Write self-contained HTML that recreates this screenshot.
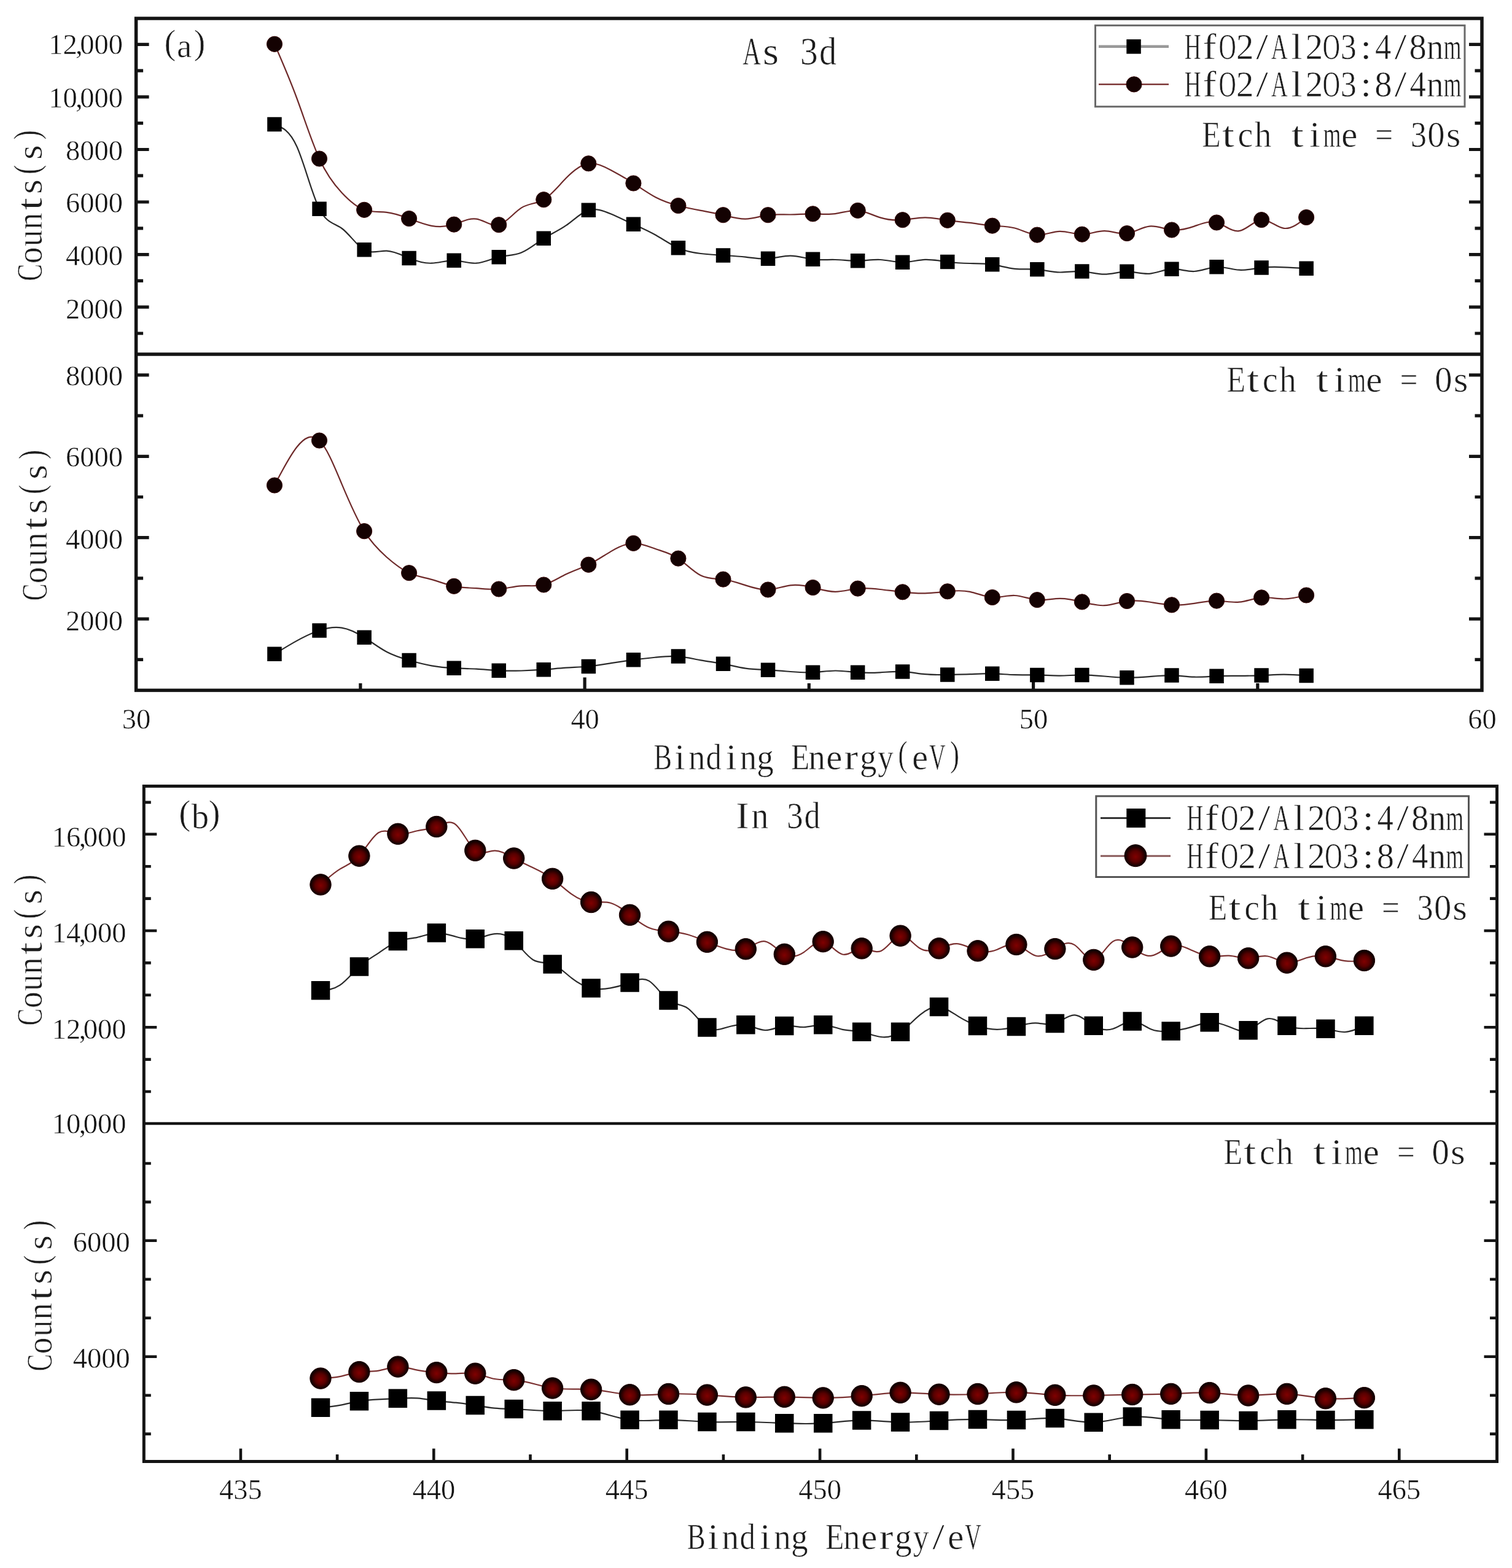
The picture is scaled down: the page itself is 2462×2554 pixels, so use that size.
<!DOCTYPE html><html><head><meta charset="utf-8"><title>XPS As 3d / In 3d</title>
<style>html,body{margin:0;padding:0;background:#fff;overflow:hidden;}svg{display:block;}svg{filter:blur(0.6px);}text{font-family:'Liberation Serif', 'Times New Roman', serif;}</style></head><body>
<svg width="2462" height="2554" viewBox="0 0 2462 2554">
<defs><radialGradient id="rg" cx="50%" cy="52%" r="50%" fx="50%" fy="55%"><stop offset="0" stop-color="#800000"/><stop offset="0.5" stop-color="#580000"/><stop offset="0.85" stop-color="#1c0000"/><stop offset="1" stop-color="#0a0000"/></radialGradient></defs>
<rect width="2462" height="2554" fill="#fff"/>
<rect x="221.6" y="30" width="2191.4" height="1094.4" fill="none" stroke="#141414" stroke-width="5.5"/>
<line x1="221.6" y1="577" x2="2413" y2="577" stroke="#141414" stroke-width="5.5"/>
<path d="M221.6 72.3H242.6M2413 72.3H2392" stroke="#141414" stroke-width="5.2"/>
<path d="M221.6 157.9H242.6M2413 157.9H2392" stroke="#141414" stroke-width="5.2"/>
<path d="M221.6 243.5H242.6M2413 243.5H2392" stroke="#141414" stroke-width="5.2"/>
<path d="M221.6 329H242.6M2413 329H2392" stroke="#141414" stroke-width="5.2"/>
<path d="M221.6 414.6H242.6M2413 414.6H2392" stroke="#141414" stroke-width="5.2"/>
<path d="M221.6 500.2H242.6M2413 500.2H2392" stroke="#141414" stroke-width="5.2"/>
<path d="M221.6 610.9H242.6M2413 610.9H2392" stroke="#141414" stroke-width="5.2"/>
<path d="M221.6 743.3H242.6M2413 743.3H2392" stroke="#141414" stroke-width="5.2"/>
<path d="M221.6 875.7H242.6M2413 875.7H2392" stroke="#141414" stroke-width="5.2"/>
<path d="M221.6 1008.1H242.6M2413 1008.1H2392" stroke="#141414" stroke-width="5.2"/>
<path d="M221.6 115.1H233.1M2413 115.1H2401.5" stroke="#141414" stroke-width="5.2"/>
<path d="M221.6 200.7H233.1M2413 200.7H2401.5" stroke="#141414" stroke-width="5.2"/>
<path d="M221.6 286.2H233.1M2413 286.2H2401.5" stroke="#141414" stroke-width="5.2"/>
<path d="M221.6 371.8H233.1M2413 371.8H2401.5" stroke="#141414" stroke-width="5.2"/>
<path d="M221.6 457.4H233.1M2413 457.4H2401.5" stroke="#141414" stroke-width="5.2"/>
<path d="M221.6 543H233.1M2413 543H2401.5" stroke="#141414" stroke-width="5.2"/>
<path d="M221.6 677.1H233.1M2413 677.1H2401.5" stroke="#141414" stroke-width="5.2"/>
<path d="M221.6 809.5H233.1M2413 809.5H2401.5" stroke="#141414" stroke-width="5.2"/>
<path d="M221.6 941.9H233.1M2413 941.9H2401.5" stroke="#141414" stroke-width="5.2"/>
<path d="M221.6 1074.3H233.1M2413 1074.3H2401.5" stroke="#141414" stroke-width="5.2"/>
<path d="M952.1 1124.4V1103.4" stroke="#141414" stroke-width="5.2"/>
<path d="M1682.6 1124.4V1103.4" stroke="#141414" stroke-width="5.2"/>
<path d="M586.9 1124.4V1112.9" stroke="#141414" stroke-width="5.2"/>
<path d="M1317.3 1124.4V1112.9" stroke="#141414" stroke-width="5.2"/>
<path d="M2047.8 1124.4V1112.9" stroke="#141414" stroke-width="5.2"/>
<rect x="234.3" y="1280.5" width="2203.2" height="1100" fill="none" stroke="#141414" stroke-width="5"/>
<line x1="234.3" y1="1830" x2="2437.5" y2="1830" stroke="#141414" stroke-width="4.6"/>
<path d="M234.3 1358.8H255.3M2437.5 1358.8H2416.5" stroke="#141414" stroke-width="4.6"/>
<path d="M234.3 1516H255.3M2437.5 1516H2416.5" stroke="#141414" stroke-width="4.6"/>
<path d="M234.3 1673.2H255.3M2437.5 1673.2H2416.5" stroke="#141414" stroke-width="4.6"/>
<path d="M234.3 2020.8H255.3M2437.5 2020.8H2416.5" stroke="#141414" stroke-width="4.6"/>
<path d="M234.3 2209.7H255.3M2437.5 2209.7H2416.5" stroke="#141414" stroke-width="4.6"/>
<path d="M234.3 1306.9H245.8M2437.5 1306.9H2426" stroke="#141414" stroke-width="4.6"/>
<path d="M234.3 1411.2H245.8M2437.5 1411.2H2426" stroke="#141414" stroke-width="4.6"/>
<path d="M234.3 1463.6H245.8M2437.5 1463.6H2426" stroke="#141414" stroke-width="4.6"/>
<path d="M234.3 1568.4H245.8M2437.5 1568.4H2426" stroke="#141414" stroke-width="4.6"/>
<path d="M234.3 1620.8H245.8M2437.5 1620.8H2426" stroke="#141414" stroke-width="4.6"/>
<path d="M234.3 1725.6H245.8M2437.5 1725.6H2426" stroke="#141414" stroke-width="4.6"/>
<path d="M234.3 1778H245.8M2437.5 1778H2426" stroke="#141414" stroke-width="4.6"/>
<path d="M234.3 1895H245.8M2437.5 1895H2426" stroke="#141414" stroke-width="4.6"/>
<path d="M234.3 1957.9H245.8M2437.5 1957.9H2426" stroke="#141414" stroke-width="4.6"/>
<path d="M234.3 2083.8H245.8M2437.5 2083.8H2426" stroke="#141414" stroke-width="4.6"/>
<path d="M234.3 2146.8H245.8M2437.5 2146.8H2426" stroke="#141414" stroke-width="4.6"/>
<path d="M234.3 2272.7H245.8M2437.5 2272.7H2426" stroke="#141414" stroke-width="4.6"/>
<path d="M234.3 2335.6H245.8M2437.5 2335.6H2426" stroke="#141414" stroke-width="4.6"/>
<path d="M391.9 2380.5V2359.5" stroke="#141414" stroke-width="4.6"/>
<path d="M706.3 2380.5V2359.5" stroke="#141414" stroke-width="4.6"/>
<path d="M1020.7 2380.5V2359.5" stroke="#141414" stroke-width="4.6"/>
<path d="M1335.1 2380.5V2359.5" stroke="#141414" stroke-width="4.6"/>
<path d="M1649.5 2380.5V2359.5" stroke="#141414" stroke-width="4.6"/>
<path d="M1963.9 2380.5V2359.5" stroke="#141414" stroke-width="4.6"/>
<path d="M2278.3 2380.5V2359.5" stroke="#141414" stroke-width="4.6"/>
<path d="M549.1 2380.5V2369" stroke="#141414" stroke-width="4.6"/>
<path d="M863.5 2380.5V2369" stroke="#141414" stroke-width="4.6"/>
<path d="M1177.9 2380.5V2369" stroke="#141414" stroke-width="4.6"/>
<path d="M1492.3 2380.5V2369" stroke="#141414" stroke-width="4.6"/>
<path d="M1806.7 2380.5V2369" stroke="#141414" stroke-width="4.6"/>
<path d="M2121.1 2380.5V2369" stroke="#141414" stroke-width="4.6"/>
<path d="M447 202.6C459.2 207.2 471.3 211.8 483.5 239C495.7 266.2 507.9 316 520 340.2C532.2 364.4 544.4 363.1 556.6 372C568.8 380.9 580.9 400.1 593.1 406.9C605.3 413.7 617.5 408.3 629.6 408.7C641.8 409.1 654 415.5 666.1 420.5C678.3 425.5 690.5 429.1 702.7 428.7C714.9 428.3 727 424 739.2 424.3C751.4 424.6 763.6 429.5 775.7 428.7C787.9 427.9 800.1 421.5 812.2 418.6C824.4 415.7 836.6 416.4 848.8 411.5C860.9 406.6 873.1 396.1 885.3 388.4C897.5 380.7 909.6 375.8 921.8 367.2C934 358.6 946.2 346.2 958.3 342.4C970.5 338.6 982.7 343.3 994.9 348.6C1007.1 353.9 1019.2 359.7 1031.4 365.2C1043.6 370.7 1055.8 376.1 1067.9 383C1080.1 389.9 1092.3 398.5 1104.4 403.9C1116.6 409.3 1128.8 411.5 1141 413C1153.1 414.5 1165.3 415.3 1177.5 416C1189.7 416.7 1201.9 417.3 1214 418.7C1226.2 420.1 1238.4 422.3 1250.5 421.4C1262.7 420.5 1274.9 416.6 1287.1 416.7C1299.2 416.8 1311.4 420.8 1323.6 422.3C1335.8 423.8 1348 422.7 1360.1 423C1372.3 423.3 1384.5 425.1 1396.7 424.9C1408.8 424.7 1421 422.4 1433.2 423C1445.3 423.6 1457.5 427.1 1469.7 427.1C1481.9 427.1 1494 423.4 1506.2 422.9C1518.4 422.4 1530.6 424.9 1542.8 426.5C1554.9 428.1 1567.1 428.8 1579.3 429C1591.5 429.2 1603.6 429.1 1615.8 430.9C1628 432.7 1640.1 436.5 1652.3 437.8C1664.5 439.1 1676.7 437.9 1688.8 438.9C1701 439.9 1713.2 443.2 1725.4 443.5C1737.5 443.8 1749.7 441.3 1761.9 442C1774.1 442.7 1786.2 446.8 1798.4 446.7C1810.6 446.6 1822.8 442.4 1835 442.4C1847.1 442.4 1859.3 446.7 1871.5 445.8C1883.6 444.9 1895.8 438.8 1908 438.2C1920.2 437.6 1932.4 442.5 1944.5 442C1956.7 441.5 1968.9 435.4 1981 434.8C1993.2 434.2 2005.4 438.9 2017.6 439.7C2029.7 440.5 2041.9 437.4 2054.1 436C2066.3 434.6 2078.4 434.8 2090.6 435.3C2102.8 435.8 2115 436.6 2127.1 437.4" fill="none" stroke="#2a2a2a" stroke-width="2.2" stroke-linejoin="round"/>
<path d="M447 71.8C459.2 99.7 471.3 127.5 483.5 160.5C495.7 193.5 507.9 231.6 520 258.5C532.2 285.4 544.4 301 556.6 314C568.8 327 580.9 337.4 593.1 341.8C605.3 346.2 617.5 344.5 629.6 345.8C641.8 347.1 654 351.4 666.1 356C678.3 360.6 690.5 365.6 702.7 367.8C714.9 370 727 369.4 739.2 365.6C751.4 361.8 763.6 354.7 775.7 356.6C787.9 358.5 800.1 369.2 812.2 366.2C824.4 363.2 836.6 346.3 848.8 338.6C860.9 330.9 873.1 332.3 885.3 325.2C897.5 318.1 909.6 302.5 921.8 290C934 277.5 946.2 268 958.3 266.3C970.5 264.6 982.7 270.7 994.9 277.2C1007.1 283.7 1019.2 290.6 1031.4 298.5C1043.6 306.4 1055.8 315.1 1067.9 321.5C1080.1 327.9 1092.3 331.8 1104.4 335C1116.6 338.2 1128.8 340.6 1141 342.9C1153.1 345.2 1165.3 347.3 1177.5 350.2C1189.7 353.1 1201.9 356.9 1214 356.6C1226.2 356.3 1238.4 351.9 1250.5 350.2C1262.7 348.5 1274.9 349.6 1287.1 349.5C1299.2 349.4 1311.4 348.2 1323.6 348.3C1335.8 348.4 1348 349.7 1360.1 348.1C1372.3 346.5 1384.5 341.9 1396.7 342.9C1408.8 343.9 1421 350.6 1433.2 354.4C1445.3 358.2 1457.5 359.2 1469.7 358.2C1481.9 357.2 1494 354.4 1506.2 354.3C1518.4 354.2 1530.6 357 1542.8 358.8C1554.9 360.6 1567.1 361.4 1579.3 362.9C1591.5 364.4 1603.6 366.8 1615.8 367.7C1628 368.6 1640.1 368.2 1652.3 371.5C1664.5 374.8 1676.7 382 1688.8 382.6C1701 383.2 1713.2 377.2 1725.4 376.8C1737.5 376.4 1749.7 381.8 1761.9 381.7C1774.1 381.6 1786.2 376.2 1798.4 376.2C1810.6 376.2 1822.8 381.7 1835 380.1C1847.1 378.5 1859.3 370 1871.5 368.6C1883.6 367.2 1895.8 373.1 1908 374.5C1920.2 375.9 1932.4 372.8 1944.5 368.6C1956.7 364.4 1968.9 359.1 1981 362.5C1993.2 365.9 2005.4 377.9 2017.6 376.2C2029.7 374.5 2041.9 359.2 2054.1 358.1C2066.3 357 2078.4 370.1 2090.6 371.8C2102.8 373.5 2115 363.7 2127.1 354" fill="none" stroke="#6e2a2a" stroke-width="2.2" stroke-linejoin="round"/>
<path d="M447 1065.3C459.2 1057.8 471.3 1050.3 483.5 1043.6C495.7 1036.9 507.9 1031 520 1026.9C532.2 1022.8 544.4 1020.7 556.6 1022.6C568.8 1024.5 580.9 1030.6 593.1 1038.3C605.3 1046 617.5 1055.3 629.6 1061.8C641.8 1068.3 654 1072 666.1 1075.5C678.3 1079 690.5 1082.1 702.7 1084.3C714.9 1086.5 727 1087.6 739.2 1088.2C751.4 1088.8 763.6 1089 775.7 1089.7C787.9 1090.4 800.1 1091.7 812.2 1092.3C824.4 1092.9 836.6 1092.8 848.8 1092.5C860.9 1092.2 873.1 1091.6 885.3 1090.7C897.5 1089.8 909.6 1088.5 921.8 1087.7C934 1086.9 946.2 1086.7 958.3 1085.5C970.5 1084.3 982.7 1082.1 994.9 1080.1C1007.1 1078.1 1019.2 1076.4 1031.4 1074.8C1043.6 1073.2 1055.8 1071.9 1067.9 1070.6C1080.1 1069.3 1092.3 1068.1 1104.4 1069.1C1116.6 1070.1 1128.8 1073.2 1141 1075.4C1153.1 1077.6 1165.3 1078.9 1177.5 1081.2C1189.7 1083.5 1201.9 1086.9 1214 1088.7C1226.2 1090.5 1238.4 1090.7 1250.5 1091.3C1262.7 1091.9 1274.9 1093 1287.1 1094C1299.2 1095 1311.4 1095.8 1323.6 1095.2C1335.8 1094.6 1348 1092.6 1360.1 1092.5C1372.3 1092.4 1384.5 1094.3 1396.7 1095.2C1408.8 1096.1 1421 1096 1433.2 1095.3C1445.3 1094.6 1457.5 1093.3 1469.7 1093.9C1481.9 1094.5 1494 1097 1506.2 1098.2C1518.4 1099.4 1530.6 1099.2 1542.8 1099C1554.9 1098.8 1567.1 1098.7 1579.3 1098.2C1591.5 1097.7 1603.6 1096.9 1615.8 1097.2C1628 1097.5 1640.1 1098.8 1652.3 1099.2C1664.5 1099.6 1676.7 1099.1 1688.8 1099.4C1701 1099.7 1713.2 1100.7 1725.4 1100.6C1737.5 1100.5 1749.7 1099.4 1761.9 1099.4C1774.1 1099.4 1786.2 1100.4 1798.4 1101.5C1810.6 1102.6 1822.8 1103.7 1835 1103.8C1847.1 1103.9 1859.3 1103.1 1871.5 1102.1C1883.6 1101.1 1895.8 1099.8 1908 1100.1C1920.2 1100.4 1932.4 1102.4 1944.5 1102.7C1956.7 1103 1968.9 1101.8 1981 1101.2C1993.2 1100.6 2005.4 1100.8 2017.6 1100.8C2029.7 1100.8 2041.9 1100.6 2054.1 1100.1C2066.3 1099.6 2078.4 1098.7 2090.6 1098.7C2102.8 1098.7 2115 1099.5 2127.1 1100.4" fill="none" stroke="#2a2a2a" stroke-width="2.2" stroke-linejoin="round"/>
<path d="M447 790.5C459.2 766.9 471.3 743.3 483.5 728C495.7 712.7 507.9 705.8 520 717.5C532.2 729.2 544.4 759.6 556.6 788.6C568.8 817.6 580.9 845.4 593.1 865.2C605.3 885 617.5 896.8 629.6 907.5C641.8 918.2 654 927.6 666.1 933.2C678.3 938.8 690.5 940.5 702.7 943.9C714.9 947.3 727 952.3 739.2 954.8C751.4 957.3 763.6 957.4 775.7 958.2C787.9 959 800.1 960.5 812.2 959.5C824.4 958.5 836.6 955 848.8 954.3C860.9 953.6 873.1 955.6 885.3 952.5C897.5 949.4 909.6 941.2 921.8 935.3C934 929.4 946.2 925.8 958.3 919.8C970.5 913.8 982.7 905.3 994.9 898.1C1007.1 890.9 1019.2 885.1 1031.4 884.9C1043.6 884.7 1055.8 890.1 1067.9 894.3C1080.1 898.5 1092.3 901.4 1104.4 909.6C1116.6 917.8 1128.8 931.1 1141 937.2C1153.1 943.3 1165.3 942.1 1177.5 943.6C1189.7 945.1 1201.9 949.4 1214 953.4C1226.2 957.4 1238.4 961.1 1250.5 960.5C1262.7 959.9 1274.9 954.9 1287.1 953.4C1299.2 951.9 1311.4 954 1323.6 957C1335.8 960 1348 963.8 1360.1 963.8C1372.3 963.8 1384.5 959.9 1396.7 958.6C1408.8 957.3 1421 958.6 1433.2 960C1445.3 961.4 1457.5 963 1469.7 964.3C1481.9 965.6 1494 966.6 1506.2 966.3C1518.4 966 1530.6 964.5 1542.8 963.3C1554.9 962.1 1567.1 961.3 1579.3 963.8C1591.5 966.3 1603.6 972.2 1615.8 973C1628 973.8 1640.1 969.4 1652.3 970C1664.5 970.6 1676.7 976 1688.8 977.1C1701 978.2 1713.2 975 1725.4 974.8C1737.5 974.6 1749.7 977.3 1761.9 980.4C1774.1 983.5 1786.2 986.9 1798.4 986.2C1810.6 985.5 1822.8 980.7 1835 979C1847.1 977.3 1859.3 978.6 1871.5 980.5C1883.6 982.4 1895.8 984.7 1908 985.3C1920.2 985.9 1932.4 984.8 1944.5 982.9C1956.7 981 1968.9 978.4 1981 978.6C1993.2 978.8 2005.4 981.8 2017.6 980.7C2029.7 979.6 2041.9 974.4 2054.1 973.4C2066.3 972.4 2078.4 975.5 2090.6 975.5C2102.8 975.5 2115 972.5 2127.1 969.5" fill="none" stroke="#6e2a2a" stroke-width="2.2" stroke-linejoin="round"/>
<path d="M522 1613.3C532.5 1612.5 543 1611.7 553.5 1604.6C564 1597.5 574.5 1584.2 584.9 1574.6C595.4 1565 605.9 1559.3 616.4 1552.3C626.9 1545.3 637.4 1537.1 647.9 1533C658.4 1528.9 668.9 1529 679.3 1526.8C689.8 1524.6 700.3 1520 710.8 1519.6C721.3 1519.2 731.8 1522.8 742.3 1525.7C752.8 1528.6 763.3 1530.8 773.8 1529.2C784.2 1527.6 794.7 1522.4 805.2 1521.2C815.7 1520 826.2 1523 836.7 1532.3C847.2 1541.6 857.7 1557.2 868.2 1563.5C878.7 1569.8 889.1 1566.6 899.6 1570.5C910.1 1574.4 920.6 1585.2 931.1 1593.4C941.6 1601.6 952.1 1607.1 962.6 1609.5C973.1 1611.9 983.6 1611.3 994 1609.4C1004.5 1607.5 1015 1604.5 1025.5 1600.5C1036 1596.5 1046.5 1591.5 1057 1597.9C1067.5 1604.3 1078 1621.9 1088.5 1629.6C1099 1637.3 1109.4 1635 1119.9 1642.4C1130.4 1649.8 1140.9 1666.8 1151.4 1673.5C1161.9 1680.2 1172.4 1676.7 1182.9 1673.5C1193.4 1670.3 1203.8 1667.4 1214.3 1669.3C1224.8 1671.2 1235.3 1677.7 1245.8 1678C1256.3 1678.3 1266.8 1672.2 1277.3 1670.9C1287.8 1669.6 1298.3 1673.2 1308.8 1673C1319.2 1672.8 1329.7 1668.9 1340.2 1669.3C1350.7 1669.7 1361.2 1674.6 1371.7 1676.8C1382.2 1679 1392.7 1678.6 1403.2 1680.8C1413.6 1683 1424.1 1687.8 1434.6 1689C1445.1 1690.2 1455.6 1687.8 1466.1 1680.8C1476.6 1673.8 1487.1 1662.1 1497.6 1653.4C1508.1 1644.7 1518.5 1639 1529 1640.1C1539.5 1641.2 1550 1649.1 1560.5 1655.6C1571 1662.1 1581.5 1667.2 1592 1670.9C1602.5 1674.6 1613 1676.8 1623.5 1676.8C1633.9 1676.8 1644.4 1674.7 1654.9 1672C1665.4 1669.3 1675.9 1666 1686.4 1666.3C1696.9 1666.6 1707.4 1670.4 1717.9 1667.1C1728.3 1663.8 1738.8 1653.2 1749.3 1653.4C1759.8 1653.6 1770.3 1664.4 1780.8 1670.8C1791.3 1677.2 1801.8 1679.2 1812.3 1675.7C1822.8 1672.2 1833.2 1663.3 1843.7 1663.4C1854.2 1663.5 1864.7 1672.5 1875.2 1676.8C1885.7 1681.1 1896.2 1680.5 1906.7 1679.4C1917.2 1678.3 1927.7 1676.5 1938.1 1673.4C1948.6 1670.3 1959.1 1665.9 1969.6 1665.3C1980.1 1664.7 1990.6 1667.9 2001.1 1672.3C2011.6 1676.7 2022.1 1682.1 2032.6 1678.3C2043 1674.5 2053.5 1661.4 2064 1659.3C2074.5 1657.2 2085 1666.2 2095.5 1670.8C2106 1675.4 2116.5 1675.5 2127 1675.2C2137.5 1674.9 2148 1674.1 2158.4 1675.7C2168.9 1677.3 2179.4 1681.4 2189.9 1681C2200.4 1680.6 2210.9 1675.7 2221.4 1670.8" fill="none" stroke="#2a2a2a" stroke-width="2.2" stroke-linejoin="round"/>
<path d="M522 1440.9C532.5 1431.5 543 1422 553.5 1415.6C564 1409.2 574.5 1405.8 584.9 1394.2C595.4 1382.6 605.9 1362.6 616.4 1356.2C626.9 1349.8 637.4 1356.8 647.9 1358.3C658.4 1359.8 668.9 1355.6 679.3 1353.3C689.8 1351 700.3 1350.6 710.8 1346.5C721.3 1342.4 731.8 1334.7 742.3 1343.3C752.8 1351.9 763.3 1376.8 773.8 1385.3C784.2 1393.8 794.7 1386 805.2 1385.6C815.7 1385.2 826.2 1392.2 836.7 1398C847.2 1403.8 857.7 1408.5 868.2 1413.4C878.7 1418.3 889.1 1423.6 899.6 1431.3C910.1 1439 920.6 1449.3 931.1 1456.7C941.6 1464.1 952.1 1468.6 962.6 1469.5C973.1 1470.4 983.6 1467.8 994 1470.7C1004.5 1473.6 1015 1482 1025.5 1490.3C1036 1498.6 1046.5 1506.8 1057 1511.2C1067.5 1515.6 1078 1516.3 1088.5 1517.2C1099 1518.1 1109.4 1519.4 1119.9 1522.3C1130.4 1525.2 1140.9 1529.9 1151.4 1534.3C1161.9 1538.7 1172.4 1542.8 1182.9 1545.6C1193.4 1548.4 1203.8 1550 1214.3 1545.8C1224.8 1541.6 1235.3 1531.7 1245.8 1533.4C1256.3 1535.1 1266.8 1548.5 1277.3 1554.3C1287.8 1560.1 1298.3 1558.2 1308.8 1551.1C1319.2 1544 1329.7 1531.7 1340.2 1533.7C1350.7 1535.7 1361.2 1552 1371.7 1554.5C1382.2 1557 1392.7 1545.7 1403.2 1544.8C1413.6 1543.9 1424.1 1553.4 1434.6 1548.9C1445.1 1544.4 1455.6 1525.8 1466.1 1524.2C1476.6 1522.6 1487.1 1538 1497.6 1544.5C1508.1 1551 1518.5 1548.5 1529 1544.8C1539.5 1541.1 1550 1536.2 1560.5 1537.4C1571 1538.6 1581.5 1545.8 1592 1548.8C1602.5 1551.8 1613 1550.7 1623.5 1546.7C1633.9 1542.7 1644.4 1535.7 1654.9 1538.5C1665.4 1541.3 1675.9 1553.9 1686.4 1556.7C1696.9 1559.5 1707.4 1552.4 1717.9 1545.6C1728.3 1538.8 1738.8 1532.4 1749.3 1538.9C1759.8 1545.4 1770.3 1564.7 1780.8 1563.4C1791.3 1562.1 1801.8 1540.2 1812.3 1533.4C1822.8 1526.6 1833.2 1535.1 1843.7 1543C1854.2 1550.9 1864.7 1558.3 1875.2 1556.7C1885.7 1555.1 1896.2 1544.4 1906.7 1541.1C1917.2 1537.8 1927.7 1542 1938.1 1546.7C1948.6 1551.4 1959.1 1556.6 1969.6 1557.8C1980.1 1559 1990.6 1556.2 2001.1 1556.7C2011.6 1557.2 2022.1 1561.2 2032.6 1560.8C2043 1560.4 2053.5 1555.8 2064 1557.5C2074.5 1559.2 2085 1567.1 2095.5 1568.2C2106 1569.3 2116.5 1563.5 2127 1560.2C2137.5 1556.9 2148 1556.1 2158.4 1557.8C2168.9 1559.5 2179.4 1563.6 2189.9 1565.1C2200.4 1566.6 2210.9 1565.6 2221.4 1564.5" fill="none" stroke="#7a3030" stroke-width="2.2" stroke-linejoin="round"/>
<path d="M522 2292.8C532.5 2291.8 543 2290.8 553.5 2288.9C564 2287 574.5 2284.1 584.9 2282.3C595.4 2280.5 605.9 2279.8 616.4 2279.3C626.9 2278.8 637.4 2278.3 647.9 2277.8C658.4 2277.3 668.9 2276.7 679.3 2277.4C689.8 2278.1 700.3 2280.2 710.8 2281.6C721.3 2283 731.8 2283.6 742.3 2284.7C752.8 2285.8 763.3 2287.3 773.8 2289C784.2 2290.7 794.7 2292.6 805.2 2293.6C815.7 2294.6 826.2 2294.6 836.7 2295C857.7 2295.8 878.7 2298.3 899.6 2298.2C920.6 2298.1 941.6 2295.2 962.6 2298.2C983.6 2301.2 1004.5 2309.9 1025.5 2312.8C1046.5 2315.7 1067.5 2312.9 1088.5 2312.8C1109.4 2312.7 1130.4 2315.2 1151.4 2316C1172.4 2316.8 1193.4 2315.9 1214.3 2316C1235.3 2316.1 1256.3 2317.3 1277.3 2318.2C1298.3 2319.1 1319.2 2319.6 1340.2 2318.2C1361.2 2316.8 1382.2 2313.6 1403.2 2313.4C1424.1 2313.2 1445.1 2316.1 1466.1 2316.6C1487.1 2317.1 1508.1 2315.4 1529 2314C1550 2312.6 1571 2311.6 1592 2311.9C1613 2312.2 1633.9 2313.9 1654.9 2313C1675.9 2312.1 1696.9 2308.8 1717.9 2310.1C1738.8 2311.4 1759.8 2317.3 1780.8 2316.7C1801.8 2316.1 1822.8 2308.9 1843.7 2307.5C1864.7 2306.1 1885.7 2310.6 1906.7 2312.3C1927.7 2314 1948.6 2312.9 1969.6 2313C1990.6 2313.1 2011.6 2314.2 2032.6 2314.1C2053.5 2314 2074.5 2312.6 2095.5 2312.3C2116.5 2312 2137.5 2312.8 2158.4 2313C2179.4 2313.2 2200.4 2312.7 2221.4 2312.3" fill="none" stroke="#2a2a2a" stroke-width="2.2" stroke-linejoin="round"/>
<path d="M522 2245.1C532.5 2244.7 543 2244.4 553.5 2242.2C564 2240 574.5 2236 584.9 2234.6C595.4 2233.2 605.9 2234.3 616.4 2232.6C626.9 2230.9 637.4 2226.5 647.9 2226.1C658.4 2225.7 668.9 2229.5 679.3 2231.7C689.8 2233.9 700.3 2234.7 710.8 2235.6C721.3 2236.5 731.8 2237.7 742.3 2237.4C752.8 2237.1 763.3 2235.5 773.8 2237.2C784.2 2238.9 794.7 2244 805.2 2246C815.7 2248 826.2 2247 836.7 2247.7C857.7 2249.2 878.7 2257.9 899.6 2261C920.6 2264.1 941.6 2261.7 962.6 2263.2C983.6 2264.7 1004.5 2270.2 1025.5 2271.8C1046.5 2273.4 1067.5 2271.2 1088.5 2270.5C1109.4 2269.8 1130.4 2270.7 1151.4 2272.1C1172.4 2273.5 1193.4 2275.5 1214.3 2275.9C1235.3 2276.3 1256.3 2275.2 1277.3 2275.3C1298.3 2275.4 1319.2 2276.8 1340.2 2276.9C1361.2 2277 1382.2 2275.8 1403.2 2273.7C1424.1 2271.6 1445.1 2268.6 1466.1 2268.3C1487.1 2268 1508.1 2270.3 1529 2271.2C1550 2272.1 1571 2271.7 1592 2270.5C1613 2269.3 1633.9 2267.4 1654.9 2267.8C1675.9 2268.2 1696.9 2271 1717.9 2272.3C1738.8 2273.6 1759.8 2273.4 1780.8 2273C1801.8 2272.6 1822.8 2271.8 1843.7 2271.5C1864.7 2271.2 1885.7 2271.3 1906.7 2270.4C1927.7 2269.5 1948.6 2267.7 1969.6 2268.6C1990.6 2269.5 2011.6 2273 2032.6 2273C2053.5 2273 2074.5 2269.6 2095.5 2270.4C2116.5 2271.2 2137.5 2276.1 2158.4 2277.8C2179.4 2279.5 2200.4 2278.1 2221.4 2276.7" fill="none" stroke="#7a3030" stroke-width="2.2" stroke-linejoin="round"/>
<path d="M435.2 190.8h23.5v23.5h-23.5zM508.3 328.4h23.5v23.5h-23.5zM581.4 395.1h23.5v23.5h-23.5zM654.4 408.8h23.5v23.5h-23.5zM727.5 412.6h23.5v23.5h-23.5zM800.5 406.9h23.5v23.5h-23.5zM873.5 376.6h23.5v23.5h-23.5zM946.6 330.6h23.5v23.5h-23.5zM1019.7 353.4h23.5v23.5h-23.5zM1092.7 392.1h23.5v23.5h-23.5zM1165.8 404.2h23.5v23.5h-23.5zM1238.8 409.6h23.5v23.5h-23.5zM1311.8 410.6h23.5v23.5h-23.5zM1384.9 413.1h23.5v23.5h-23.5zM1457.9 415.4h23.5v23.5h-23.5zM1531 414.8h23.5v23.5h-23.5zM1604 419.1h23.5v23.5h-23.5zM1677.1 427.1h23.5v23.5h-23.5zM1750.1 430.2h23.5v23.5h-23.5zM1823.2 430.6h23.5v23.5h-23.5zM1896.2 426.4h23.5v23.5h-23.5zM1969.3 423.1h23.5v23.5h-23.5zM2042.3 424.2h23.5v23.5h-23.5zM2115.4 425.6h23.5v23.5h-23.5z" fill="#000"/>
<path d="M435.2 1053.5h23.5v23.5h-23.5zM508.3 1015.2h23.5v23.5h-23.5zM581.4 1026.5h23.5v23.5h-23.5zM654.4 1063.8h23.5v23.5h-23.5zM727.5 1076.5h23.5v23.5h-23.5zM800.5 1080.5h23.5v23.5h-23.5zM873.5 1079h23.5v23.5h-23.5zM946.6 1073.8h23.5v23.5h-23.5zM1019.7 1063h23.5v23.5h-23.5zM1092.7 1057.3h23.5v23.5h-23.5zM1165.8 1069.5h23.5v23.5h-23.5zM1238.8 1079.5h23.5v23.5h-23.5zM1311.8 1083.5h23.5v23.5h-23.5zM1384.9 1083.5h23.5v23.5h-23.5zM1457.9 1082.2h23.5v23.5h-23.5zM1531 1087.2h23.5v23.5h-23.5zM1604 1085.5h23.5v23.5h-23.5zM1677.1 1087.7h23.5v23.5h-23.5zM1750.1 1087.7h23.5v23.5h-23.5zM1823.2 1092h23.5v23.5h-23.5zM1896.2 1088.3h23.5v23.5h-23.5zM1969.3 1089.5h23.5v23.5h-23.5zM2042.3 1088.3h23.5v23.5h-23.5zM2115.4 1088.7h23.5v23.5h-23.5z" fill="#000"/>
<circle cx="447" cy="71.8" r="12.6" fill="#140202" stroke="#3a0a0a" stroke-width="1"/>
<circle cx="520" cy="258.5" r="12.6" fill="#140202" stroke="#3a0a0a" stroke-width="1"/>
<circle cx="593.1" cy="341.8" r="12.6" fill="#140202" stroke="#3a0a0a" stroke-width="1"/>
<circle cx="666.1" cy="356" r="12.6" fill="#140202" stroke="#3a0a0a" stroke-width="1"/>
<circle cx="739.2" cy="365.6" r="12.6" fill="#140202" stroke="#3a0a0a" stroke-width="1"/>
<circle cx="812.2" cy="366.2" r="12.6" fill="#140202" stroke="#3a0a0a" stroke-width="1"/>
<circle cx="885.3" cy="325.2" r="12.6" fill="#140202" stroke="#3a0a0a" stroke-width="1"/>
<circle cx="958.3" cy="266.3" r="12.6" fill="#140202" stroke="#3a0a0a" stroke-width="1"/>
<circle cx="1031.4" cy="298.5" r="12.6" fill="#140202" stroke="#3a0a0a" stroke-width="1"/>
<circle cx="1104.4" cy="335" r="12.6" fill="#140202" stroke="#3a0a0a" stroke-width="1"/>
<circle cx="1177.5" cy="350.2" r="12.6" fill="#140202" stroke="#3a0a0a" stroke-width="1"/>
<circle cx="1250.5" cy="350.2" r="12.6" fill="#140202" stroke="#3a0a0a" stroke-width="1"/>
<circle cx="1323.6" cy="348.3" r="12.6" fill="#140202" stroke="#3a0a0a" stroke-width="1"/>
<circle cx="1396.7" cy="342.9" r="12.6" fill="#140202" stroke="#3a0a0a" stroke-width="1"/>
<circle cx="1469.7" cy="358.2" r="12.6" fill="#140202" stroke="#3a0a0a" stroke-width="1"/>
<circle cx="1542.8" cy="358.8" r="12.6" fill="#140202" stroke="#3a0a0a" stroke-width="1"/>
<circle cx="1615.8" cy="367.7" r="12.6" fill="#140202" stroke="#3a0a0a" stroke-width="1"/>
<circle cx="1688.8" cy="382.6" r="12.6" fill="#140202" stroke="#3a0a0a" stroke-width="1"/>
<circle cx="1761.9" cy="381.7" r="12.6" fill="#140202" stroke="#3a0a0a" stroke-width="1"/>
<circle cx="1835" cy="380.1" r="12.6" fill="#140202" stroke="#3a0a0a" stroke-width="1"/>
<circle cx="1908" cy="374.5" r="12.6" fill="#140202" stroke="#3a0a0a" stroke-width="1"/>
<circle cx="1981" cy="362.5" r="12.6" fill="#140202" stroke="#3a0a0a" stroke-width="1"/>
<circle cx="2054.1" cy="358.1" r="12.6" fill="#140202" stroke="#3a0a0a" stroke-width="1"/>
<circle cx="2127.1" cy="354" r="12.6" fill="#140202" stroke="#3a0a0a" stroke-width="1"/>
<circle cx="447" cy="790.5" r="12.6" fill="#140202" stroke="#3a0a0a" stroke-width="1"/>
<circle cx="520" cy="717.5" r="12.6" fill="#140202" stroke="#3a0a0a" stroke-width="1"/>
<circle cx="593.1" cy="865.2" r="12.6" fill="#140202" stroke="#3a0a0a" stroke-width="1"/>
<circle cx="666.1" cy="933.2" r="12.6" fill="#140202" stroke="#3a0a0a" stroke-width="1"/>
<circle cx="739.2" cy="954.8" r="12.6" fill="#140202" stroke="#3a0a0a" stroke-width="1"/>
<circle cx="812.2" cy="959.5" r="12.6" fill="#140202" stroke="#3a0a0a" stroke-width="1"/>
<circle cx="885.3" cy="952.5" r="12.6" fill="#140202" stroke="#3a0a0a" stroke-width="1"/>
<circle cx="958.3" cy="919.8" r="12.6" fill="#140202" stroke="#3a0a0a" stroke-width="1"/>
<circle cx="1031.4" cy="884.9" r="12.6" fill="#140202" stroke="#3a0a0a" stroke-width="1"/>
<circle cx="1104.4" cy="909.6" r="12.6" fill="#140202" stroke="#3a0a0a" stroke-width="1"/>
<circle cx="1177.5" cy="943.6" r="12.6" fill="#140202" stroke="#3a0a0a" stroke-width="1"/>
<circle cx="1250.5" cy="960.5" r="12.6" fill="#140202" stroke="#3a0a0a" stroke-width="1"/>
<circle cx="1323.6" cy="957" r="12.6" fill="#140202" stroke="#3a0a0a" stroke-width="1"/>
<circle cx="1396.7" cy="958.6" r="12.6" fill="#140202" stroke="#3a0a0a" stroke-width="1"/>
<circle cx="1469.7" cy="964.3" r="12.6" fill="#140202" stroke="#3a0a0a" stroke-width="1"/>
<circle cx="1542.8" cy="963.3" r="12.6" fill="#140202" stroke="#3a0a0a" stroke-width="1"/>
<circle cx="1615.8" cy="973" r="12.6" fill="#140202" stroke="#3a0a0a" stroke-width="1"/>
<circle cx="1688.8" cy="977.1" r="12.6" fill="#140202" stroke="#3a0a0a" stroke-width="1"/>
<circle cx="1761.9" cy="980.4" r="12.6" fill="#140202" stroke="#3a0a0a" stroke-width="1"/>
<circle cx="1835" cy="979" r="12.6" fill="#140202" stroke="#3a0a0a" stroke-width="1"/>
<circle cx="1908" cy="985.3" r="12.6" fill="#140202" stroke="#3a0a0a" stroke-width="1"/>
<circle cx="1981" cy="978.6" r="12.6" fill="#140202" stroke="#3a0a0a" stroke-width="1"/>
<circle cx="2054.1" cy="973.4" r="12.6" fill="#140202" stroke="#3a0a0a" stroke-width="1"/>
<circle cx="2127.1" cy="969.5" r="12.6" fill="#140202" stroke="#3a0a0a" stroke-width="1"/>
<path d="M506.8 1598h30.5v30.5h-30.5zM569.7 1559.3h30.5v30.5h-30.5zM632.6 1517.8h30.5v30.5h-30.5zM695.6 1504.3h30.5v30.5h-30.5zM758.5 1514h30.5v30.5h-30.5zM821.5 1517h30.5v30.5h-30.5zM884.4 1555.2h30.5v30.5h-30.5zM947.3 1594.2h30.5v30.5h-30.5zM1010.3 1585.2h30.5v30.5h-30.5zM1073.2 1614.3h30.5v30.5h-30.5zM1136.2 1658.2h30.5v30.5h-30.5zM1199.1 1654h30.5v30.5h-30.5zM1262 1655.7h30.5v30.5h-30.5zM1325 1654h30.5v30.5h-30.5zM1387.9 1665.5h30.5v30.5h-30.5zM1450.8 1665.5h30.5v30.5h-30.5zM1513.8 1624.8h30.5v30.5h-30.5zM1576.7 1655.7h30.5v30.5h-30.5zM1639.7 1656.8h30.5v30.5h-30.5zM1702.6 1651.8h30.5v30.5h-30.5zM1765.5 1655.5h30.5v30.5h-30.5zM1828.5 1648.2h30.5v30.5h-30.5zM1891.4 1664.2h30.5v30.5h-30.5zM1954.4 1650h30.5v30.5h-30.5zM2017.3 1663h30.5v30.5h-30.5zM2080.2 1655.5h30.5v30.5h-30.5zM2143.2 1660.5h30.5v30.5h-30.5zM2206.1 1655.5h30.5v30.5h-30.5z" fill="#000"/>
<path d="M506.8 2277.6h30.5v30.5h-30.5zM569.7 2267.1h30.5v30.5h-30.5zM632.6 2262.6h30.5v30.5h-30.5zM695.6 2266.3h30.5v30.5h-30.5zM758.5 2273.8h30.5v30.5h-30.5zM821.5 2279.8h30.5v30.5h-30.5zM884.4 2282.9h30.5v30.5h-30.5zM947.3 2282.9h30.5v30.5h-30.5zM1010.3 2297.6h30.5v30.5h-30.5zM1073.2 2297.6h30.5v30.5h-30.5zM1136.2 2300.8h30.5v30.5h-30.5zM1199.1 2300.8h30.5v30.5h-30.5zM1262 2302.9h30.5v30.5h-30.5zM1325 2302.9h30.5v30.5h-30.5zM1387.9 2298.2h30.5v30.5h-30.5zM1450.8 2301.3h30.5v30.5h-30.5zM1513.8 2298.8h30.5v30.5h-30.5zM1576.7 2296.7h30.5v30.5h-30.5zM1639.7 2297.8h30.5v30.5h-30.5zM1702.6 2294.8h30.5v30.5h-30.5zM1765.5 2301.4h30.5v30.5h-30.5zM1828.5 2292.2h30.5v30.5h-30.5zM1891.4 2297.1h30.5v30.5h-30.5zM1954.4 2297.8h30.5v30.5h-30.5zM2017.3 2298.8h30.5v30.5h-30.5zM2080.2 2297.1h30.5v30.5h-30.5zM2143.2 2297.8h30.5v30.5h-30.5zM2206.1 2297.1h30.5v30.5h-30.5z" fill="#000"/>
<circle cx="522" cy="1440.9" r="17.2" fill="url(#rg)" stroke="#200000" stroke-width="1"/>
<circle cx="584.9" cy="1394.2" r="17.2" fill="url(#rg)" stroke="#200000" stroke-width="1"/>
<circle cx="647.9" cy="1358.3" r="17.2" fill="url(#rg)" stroke="#200000" stroke-width="1"/>
<circle cx="710.8" cy="1346.5" r="17.2" fill="url(#rg)" stroke="#200000" stroke-width="1"/>
<circle cx="773.8" cy="1385.3" r="17.2" fill="url(#rg)" stroke="#200000" stroke-width="1"/>
<circle cx="836.7" cy="1398" r="17.2" fill="url(#rg)" stroke="#200000" stroke-width="1"/>
<circle cx="899.6" cy="1431.3" r="17.2" fill="url(#rg)" stroke="#200000" stroke-width="1"/>
<circle cx="962.6" cy="1469.5" r="17.2" fill="url(#rg)" stroke="#200000" stroke-width="1"/>
<circle cx="1025.5" cy="1490.3" r="17.2" fill="url(#rg)" stroke="#200000" stroke-width="1"/>
<circle cx="1088.5" cy="1517.2" r="17.2" fill="url(#rg)" stroke="#200000" stroke-width="1"/>
<circle cx="1151.4" cy="1534.3" r="17.2" fill="url(#rg)" stroke="#200000" stroke-width="1"/>
<circle cx="1214.3" cy="1545.8" r="17.2" fill="url(#rg)" stroke="#200000" stroke-width="1"/>
<circle cx="1277.3" cy="1554.3" r="17.2" fill="url(#rg)" stroke="#200000" stroke-width="1"/>
<circle cx="1340.2" cy="1533.7" r="17.2" fill="url(#rg)" stroke="#200000" stroke-width="1"/>
<circle cx="1403.2" cy="1544.8" r="17.2" fill="url(#rg)" stroke="#200000" stroke-width="1"/>
<circle cx="1466.1" cy="1524.2" r="17.2" fill="url(#rg)" stroke="#200000" stroke-width="1"/>
<circle cx="1529" cy="1544.8" r="17.2" fill="url(#rg)" stroke="#200000" stroke-width="1"/>
<circle cx="1592" cy="1548.8" r="17.2" fill="url(#rg)" stroke="#200000" stroke-width="1"/>
<circle cx="1654.9" cy="1538.5" r="17.2" fill="url(#rg)" stroke="#200000" stroke-width="1"/>
<circle cx="1717.9" cy="1545.6" r="17.2" fill="url(#rg)" stroke="#200000" stroke-width="1"/>
<circle cx="1780.8" cy="1563.4" r="17.2" fill="url(#rg)" stroke="#200000" stroke-width="1"/>
<circle cx="1843.7" cy="1543" r="17.2" fill="url(#rg)" stroke="#200000" stroke-width="1"/>
<circle cx="1906.7" cy="1541.1" r="17.2" fill="url(#rg)" stroke="#200000" stroke-width="1"/>
<circle cx="1969.6" cy="1557.8" r="17.2" fill="url(#rg)" stroke="#200000" stroke-width="1"/>
<circle cx="2032.6" cy="1560.8" r="17.2" fill="url(#rg)" stroke="#200000" stroke-width="1"/>
<circle cx="2095.5" cy="1568.2" r="17.2" fill="url(#rg)" stroke="#200000" stroke-width="1"/>
<circle cx="2158.4" cy="1557.8" r="17.2" fill="url(#rg)" stroke="#200000" stroke-width="1"/>
<circle cx="2221.4" cy="1564.5" r="17.2" fill="url(#rg)" stroke="#200000" stroke-width="1"/>
<circle cx="522" cy="2245.1" r="17.2" fill="url(#rg)" stroke="#200000" stroke-width="1"/>
<circle cx="584.9" cy="2234.6" r="17.2" fill="url(#rg)" stroke="#200000" stroke-width="1"/>
<circle cx="647.9" cy="2226.1" r="17.2" fill="url(#rg)" stroke="#200000" stroke-width="1"/>
<circle cx="710.8" cy="2235.6" r="17.2" fill="url(#rg)" stroke="#200000" stroke-width="1"/>
<circle cx="773.8" cy="2237.2" r="17.2" fill="url(#rg)" stroke="#200000" stroke-width="1"/>
<circle cx="836.7" cy="2247.7" r="17.2" fill="url(#rg)" stroke="#200000" stroke-width="1"/>
<circle cx="899.6" cy="2261" r="17.2" fill="url(#rg)" stroke="#200000" stroke-width="1"/>
<circle cx="962.6" cy="2263.2" r="17.2" fill="url(#rg)" stroke="#200000" stroke-width="1"/>
<circle cx="1025.5" cy="2271.8" r="17.2" fill="url(#rg)" stroke="#200000" stroke-width="1"/>
<circle cx="1088.5" cy="2270.5" r="17.2" fill="url(#rg)" stroke="#200000" stroke-width="1"/>
<circle cx="1151.4" cy="2272.1" r="17.2" fill="url(#rg)" stroke="#200000" stroke-width="1"/>
<circle cx="1214.3" cy="2275.9" r="17.2" fill="url(#rg)" stroke="#200000" stroke-width="1"/>
<circle cx="1277.3" cy="2275.3" r="17.2" fill="url(#rg)" stroke="#200000" stroke-width="1"/>
<circle cx="1340.2" cy="2276.9" r="17.2" fill="url(#rg)" stroke="#200000" stroke-width="1"/>
<circle cx="1403.2" cy="2273.7" r="17.2" fill="url(#rg)" stroke="#200000" stroke-width="1"/>
<circle cx="1466.1" cy="2268.3" r="17.2" fill="url(#rg)" stroke="#200000" stroke-width="1"/>
<circle cx="1529" cy="2271.2" r="17.2" fill="url(#rg)" stroke="#200000" stroke-width="1"/>
<circle cx="1592" cy="2270.5" r="17.2" fill="url(#rg)" stroke="#200000" stroke-width="1"/>
<circle cx="1654.9" cy="2267.8" r="17.2" fill="url(#rg)" stroke="#200000" stroke-width="1"/>
<circle cx="1717.9" cy="2272.3" r="17.2" fill="url(#rg)" stroke="#200000" stroke-width="1"/>
<circle cx="1780.8" cy="2273" r="17.2" fill="url(#rg)" stroke="#200000" stroke-width="1"/>
<circle cx="1843.7" cy="2271.5" r="17.2" fill="url(#rg)" stroke="#200000" stroke-width="1"/>
<circle cx="1906.7" cy="2270.4" r="17.2" fill="url(#rg)" stroke="#200000" stroke-width="1"/>
<circle cx="1969.6" cy="2268.6" r="17.2" fill="url(#rg)" stroke="#200000" stroke-width="1"/>
<circle cx="2032.6" cy="2273" r="17.2" fill="url(#rg)" stroke="#200000" stroke-width="1"/>
<circle cx="2095.5" cy="2270.4" r="17.2" fill="url(#rg)" stroke="#200000" stroke-width="1"/>
<circle cx="2158.4" cy="2277.8" r="17.2" fill="url(#rg)" stroke="#200000" stroke-width="1"/>
<circle cx="2221.4" cy="2276.7" r="17.2" fill="url(#rg)" stroke="#200000" stroke-width="1"/>
<rect x="1783.5" y="41.4" width="601.5" height="132.3" fill="#fff" stroke="#6a6a6a" stroke-width="3"/>
<line x1="1789" y1="75.8" x2="1903" y2="75.8" stroke="#999" stroke-width="4.5"/>
<rect x="1834.3" y="64.1" width="23.5" height="23.5" fill="#000"/>
<line x1="1789" y1="137.4" x2="1903" y2="137.4" stroke="#6e2020" stroke-width="2.2"/>
<circle cx="1846.5" cy="137.4" r="12.6" fill="#140202" stroke="#3a0a0a" stroke-width="1"/>
<rect x="1784.8" y="1296.8" width="606.7" height="131.7" fill="#fff" stroke="#555" stroke-width="3"/>
<line x1="1792" y1="1332.5" x2="1906" y2="1332.5" stroke="#333" stroke-width="3"/>
<rect x="1834.3" y="1317" width="31" height="31" fill="#000"/>
<line x1="1792" y1="1394.2" x2="1906" y2="1394.2" stroke="#8a5a5a" stroke-width="3"/>
<circle cx="1849" cy="1393.7" r="18" fill="url(#rg)" stroke="#200000" stroke-width="1"/>
<text font-size="59" fill="#1c1c1c" stroke="#fff" stroke-width="0.7"><tspan x="1928.7" y="96.4" textLength="26.97" lengthAdjust="spacingAndGlyphs">H</tspan><tspan x="1958.4" y="96.4" textLength="22.04" lengthAdjust="spacingAndGlyphs">f</tspan><tspan x="1984.5" y="96.4" textLength="28.20" lengthAdjust="spacingAndGlyphs">O</tspan><tspan x="2012.8" y="96.4" textLength="28.69" lengthAdjust="spacingAndGlyphs">2</tspan><tspan x="2045.2" y="96.4" textLength="19.67" lengthAdjust="spacingAndGlyphs">/</tspan><tspan x="2069.7" y="96.4" textLength="26.84" lengthAdjust="spacingAndGlyphs">A</tspan><tspan x="2102.4" y="96.4" textLength="18.03" lengthAdjust="spacingAndGlyphs">l</tspan><tspan x="2125.6" y="96.4" textLength="28.69" lengthAdjust="spacingAndGlyphs">2</tspan><tspan x="2153.7" y="96.4" textLength="28.20" lengthAdjust="spacingAndGlyphs">O</tspan><tspan x="2182.8" y="96.4" textLength="26.02" lengthAdjust="spacingAndGlyphs">3</tspan><tspan x="2214.8" y="96.4" textLength="18.89" lengthAdjust="spacingAndGlyphs">:</tspan><tspan x="2239.1" y="96.4" textLength="26.35" lengthAdjust="spacingAndGlyphs">4</tspan><tspan x="2270.8" y="96.4" textLength="19.67" lengthAdjust="spacingAndGlyphs">/</tspan><tspan x="2294.6" y="96.4" textLength="28.31" lengthAdjust="spacingAndGlyphs">8</tspan><tspan x="2323" y="96.4" textLength="27.60" lengthAdjust="spacingAndGlyphs">n</tspan><tspan x="2350.7" y="96.4" textLength="28.86" lengthAdjust="spacingAndGlyphs">m</tspan></text>
<text font-size="59" fill="#1c1c1c" stroke="#fff" stroke-width="0.7"><tspan x="1928.7" y="156.7" textLength="26.97" lengthAdjust="spacingAndGlyphs">H</tspan><tspan x="1958.4" y="156.7" textLength="22.04" lengthAdjust="spacingAndGlyphs">f</tspan><tspan x="1984.5" y="156.7" textLength="28.20" lengthAdjust="spacingAndGlyphs">O</tspan><tspan x="2012.8" y="156.7" textLength="28.69" lengthAdjust="spacingAndGlyphs">2</tspan><tspan x="2045.2" y="156.7" textLength="19.67" lengthAdjust="spacingAndGlyphs">/</tspan><tspan x="2069.7" y="156.7" textLength="26.84" lengthAdjust="spacingAndGlyphs">A</tspan><tspan x="2102.4" y="156.7" textLength="18.03" lengthAdjust="spacingAndGlyphs">l</tspan><tspan x="2125.6" y="156.7" textLength="28.69" lengthAdjust="spacingAndGlyphs">2</tspan><tspan x="2153.7" y="156.7" textLength="28.20" lengthAdjust="spacingAndGlyphs">O</tspan><tspan x="2182.8" y="156.7" textLength="26.02" lengthAdjust="spacingAndGlyphs">3</tspan><tspan x="2214.8" y="156.7" textLength="18.89" lengthAdjust="spacingAndGlyphs">:</tspan><tspan x="2238.2" y="156.7" textLength="28.31" lengthAdjust="spacingAndGlyphs">8</tspan><tspan x="2270.8" y="156.7" textLength="19.67" lengthAdjust="spacingAndGlyphs">/</tspan><tspan x="2295.5" y="156.7" textLength="26.35" lengthAdjust="spacingAndGlyphs">4</tspan><tspan x="2323" y="156.7" textLength="27.60" lengthAdjust="spacingAndGlyphs">n</tspan><tspan x="2350.7" y="156.7" textLength="28.86" lengthAdjust="spacingAndGlyphs">m</tspan></text>
<text font-size="59" fill="#1c1c1c" stroke="#fff" stroke-width="0.7"><tspan x="1932.2" y="1352.3" textLength="26.97" lengthAdjust="spacingAndGlyphs">H</tspan><tspan x="1961.9" y="1352.3" textLength="22.04" lengthAdjust="spacingAndGlyphs">f</tspan><tspan x="1988" y="1352.3" textLength="28.20" lengthAdjust="spacingAndGlyphs">O</tspan><tspan x="2016.3" y="1352.3" textLength="28.69" lengthAdjust="spacingAndGlyphs">2</tspan><tspan x="2048.7" y="1352.3" textLength="19.67" lengthAdjust="spacingAndGlyphs">/</tspan><tspan x="2073.2" y="1352.3" textLength="26.84" lengthAdjust="spacingAndGlyphs">A</tspan><tspan x="2105.9" y="1352.3" textLength="18.03" lengthAdjust="spacingAndGlyphs">l</tspan><tspan x="2129.1" y="1352.3" textLength="28.69" lengthAdjust="spacingAndGlyphs">2</tspan><tspan x="2157.2" y="1352.3" textLength="28.20" lengthAdjust="spacingAndGlyphs">O</tspan><tspan x="2186.3" y="1352.3" textLength="26.02" lengthAdjust="spacingAndGlyphs">3</tspan><tspan x="2218.3" y="1352.3" textLength="18.89" lengthAdjust="spacingAndGlyphs">:</tspan><tspan x="2242.6" y="1352.3" textLength="26.35" lengthAdjust="spacingAndGlyphs">4</tspan><tspan x="2274.3" y="1352.3" textLength="19.67" lengthAdjust="spacingAndGlyphs">/</tspan><tspan x="2298.1" y="1352.3" textLength="28.31" lengthAdjust="spacingAndGlyphs">8</tspan><tspan x="2326.5" y="1352.3" textLength="27.60" lengthAdjust="spacingAndGlyphs">n</tspan><tspan x="2354.2" y="1352.3" textLength="28.86" lengthAdjust="spacingAndGlyphs">m</tspan></text>
<text font-size="59" fill="#1c1c1c" stroke="#fff" stroke-width="0.7"><tspan x="1932.2" y="1414.3" textLength="26.97" lengthAdjust="spacingAndGlyphs">H</tspan><tspan x="1961.9" y="1414.3" textLength="22.04" lengthAdjust="spacingAndGlyphs">f</tspan><tspan x="1988" y="1414.3" textLength="28.20" lengthAdjust="spacingAndGlyphs">O</tspan><tspan x="2016.3" y="1414.3" textLength="28.69" lengthAdjust="spacingAndGlyphs">2</tspan><tspan x="2048.7" y="1414.3" textLength="19.67" lengthAdjust="spacingAndGlyphs">/</tspan><tspan x="2073.2" y="1414.3" textLength="26.84" lengthAdjust="spacingAndGlyphs">A</tspan><tspan x="2105.9" y="1414.3" textLength="18.03" lengthAdjust="spacingAndGlyphs">l</tspan><tspan x="2129.1" y="1414.3" textLength="28.69" lengthAdjust="spacingAndGlyphs">2</tspan><tspan x="2157.2" y="1414.3" textLength="28.20" lengthAdjust="spacingAndGlyphs">O</tspan><tspan x="2186.3" y="1414.3" textLength="26.02" lengthAdjust="spacingAndGlyphs">3</tspan><tspan x="2218.3" y="1414.3" textLength="18.89" lengthAdjust="spacingAndGlyphs">:</tspan><tspan x="2241.7" y="1414.3" textLength="28.31" lengthAdjust="spacingAndGlyphs">8</tspan><tspan x="2274.3" y="1414.3" textLength="19.67" lengthAdjust="spacingAndGlyphs">/</tspan><tspan x="2299" y="1414.3" textLength="26.35" lengthAdjust="spacingAndGlyphs">4</tspan><tspan x="2326.5" y="1414.3" textLength="27.60" lengthAdjust="spacingAndGlyphs">n</tspan><tspan x="2354.2" y="1414.3" textLength="28.86" lengthAdjust="spacingAndGlyphs">m</tspan></text>
<text font-size="59" fill="#1c1c1c" stroke="#fff" stroke-width="0.7"><tspan x="1957.2" y="238.6" textLength="30.41" lengthAdjust="spacingAndGlyphs">E</tspan><tspan x="1989.7" y="238.6" textLength="20.49" lengthAdjust="spacingAndGlyphs">t</tspan><tspan x="2015.6" y="238.6" textLength="24.86" lengthAdjust="spacingAndGlyphs">c</tspan><tspan x="2042.7" y="238.6" textLength="27.77" lengthAdjust="spacingAndGlyphs">h</tspan><tspan x="2084.7" y="238.6"> </tspan><tspan x="2102.5" y="238.6" textLength="20.49" lengthAdjust="spacingAndGlyphs">t</tspan><tspan x="2132" y="238.6" textLength="18.03" lengthAdjust="spacingAndGlyphs">i</tspan><tspan x="2154.7" y="238.6" textLength="28.86" lengthAdjust="spacingAndGlyphs">m</tspan><tspan x="2184.1" y="238.6" textLength="26.38" lengthAdjust="spacingAndGlyphs">e</tspan><tspan x="2225.7" y="238.6"> </tspan><tspan x="2239.3" y="238.6" textLength="29.09" lengthAdjust="spacingAndGlyphs">=</tspan><tspan x="2282.1" y="238.6"> </tspan><tspan x="2297" y="238.6" textLength="26.02" lengthAdjust="spacingAndGlyphs">3</tspan><tspan x="2324.3" y="238.6" textLength="28.31" lengthAdjust="spacingAndGlyphs">0</tspan><tspan x="2354.7" y="238.6" textLength="23.70" lengthAdjust="spacingAndGlyphs">s</tspan></text>
<text font-size="59" fill="#1c1c1c" stroke="#fff" stroke-width="0.7"><tspan x="1997.4" y="637.5" textLength="30.41" lengthAdjust="spacingAndGlyphs">E</tspan><tspan x="2029.9" y="637.5" textLength="20.49" lengthAdjust="spacingAndGlyphs">t</tspan><tspan x="2055.8" y="637.5" textLength="24.86" lengthAdjust="spacingAndGlyphs">c</tspan><tspan x="2082.9" y="637.5" textLength="27.77" lengthAdjust="spacingAndGlyphs">h</tspan><tspan x="2124.8" y="637.5"> </tspan><tspan x="2142.7" y="637.5" textLength="20.49" lengthAdjust="spacingAndGlyphs">t</tspan><tspan x="2172.2" y="637.5" textLength="18.03" lengthAdjust="spacingAndGlyphs">i</tspan><tspan x="2194.9" y="637.5" textLength="28.86" lengthAdjust="spacingAndGlyphs">m</tspan><tspan x="2224.3" y="637.5" textLength="26.38" lengthAdjust="spacingAndGlyphs">e</tspan><tspan x="2265.8" y="637.5"> </tspan><tspan x="2279.5" y="637.5" textLength="29.09" lengthAdjust="spacingAndGlyphs">=</tspan><tspan x="2322.2" y="637.5"> </tspan><tspan x="2336.3" y="637.5" textLength="28.31" lengthAdjust="spacingAndGlyphs">0</tspan><tspan x="2366.7" y="637.5" textLength="23.70" lengthAdjust="spacingAndGlyphs">s</tspan></text>
<text font-size="59" fill="#1c1c1c" stroke="#fff" stroke-width="0.7"><tspan x="1967.8" y="1497.5" textLength="30.41" lengthAdjust="spacingAndGlyphs">E</tspan><tspan x="2000.3" y="1497.5" textLength="20.49" lengthAdjust="spacingAndGlyphs">t</tspan><tspan x="2026.2" y="1497.5" textLength="24.86" lengthAdjust="spacingAndGlyphs">c</tspan><tspan x="2053.3" y="1497.5" textLength="27.77" lengthAdjust="spacingAndGlyphs">h</tspan><tspan x="2095.2" y="1497.5"> </tspan><tspan x="2113.1" y="1497.5" textLength="20.49" lengthAdjust="spacingAndGlyphs">t</tspan><tspan x="2142.6" y="1497.5" textLength="18.03" lengthAdjust="spacingAndGlyphs">i</tspan><tspan x="2165.3" y="1497.5" textLength="28.86" lengthAdjust="spacingAndGlyphs">m</tspan><tspan x="2194.7" y="1497.5" textLength="26.38" lengthAdjust="spacingAndGlyphs">e</tspan><tspan x="2236.2" y="1497.5"> </tspan><tspan x="2249.9" y="1497.5" textLength="29.09" lengthAdjust="spacingAndGlyphs">=</tspan><tspan x="2292.7" y="1497.5"> </tspan><tspan x="2307.6" y="1497.5" textLength="26.02" lengthAdjust="spacingAndGlyphs">3</tspan><tspan x="2334.9" y="1497.5" textLength="28.31" lengthAdjust="spacingAndGlyphs">0</tspan><tspan x="2365.3" y="1497.5" textLength="23.70" lengthAdjust="spacingAndGlyphs">s</tspan></text>
<text font-size="59" fill="#1c1c1c" stroke="#fff" stroke-width="0.7"><tspan x="1992.6" y="1895.9" textLength="30.41" lengthAdjust="spacingAndGlyphs">E</tspan><tspan x="2025.1" y="1895.9" textLength="20.49" lengthAdjust="spacingAndGlyphs">t</tspan><tspan x="2051" y="1895.9" textLength="24.86" lengthAdjust="spacingAndGlyphs">c</tspan><tspan x="2078.1" y="1895.9" textLength="27.77" lengthAdjust="spacingAndGlyphs">h</tspan><tspan x="2120.1" y="1895.9"> </tspan><tspan x="2137.9" y="1895.9" textLength="20.49" lengthAdjust="spacingAndGlyphs">t</tspan><tspan x="2167.4" y="1895.9" textLength="18.03" lengthAdjust="spacingAndGlyphs">i</tspan><tspan x="2190.1" y="1895.9" textLength="28.86" lengthAdjust="spacingAndGlyphs">m</tspan><tspan x="2219.5" y="1895.9" textLength="26.38" lengthAdjust="spacingAndGlyphs">e</tspan><tspan x="2261.1" y="1895.9"> </tspan><tspan x="2274.7" y="1895.9" textLength="29.09" lengthAdjust="spacingAndGlyphs">=</tspan><tspan x="2317.5" y="1895.9"> </tspan><tspan x="2331.5" y="1895.9" textLength="28.31" lengthAdjust="spacingAndGlyphs">0</tspan><tspan x="2361.9" y="1895.9" textLength="23.70" lengthAdjust="spacingAndGlyphs">s</tspan></text>
<text font-size="64" fill="#1c1c1c" stroke="#fff" stroke-width="0.7"><tspan x="1209.2" y="105.1" textLength="29.64" lengthAdjust="spacingAndGlyphs">A</tspan><tspan x="1242" y="105.1" textLength="26.18" lengthAdjust="spacingAndGlyphs">s</tspan><tspan x="1286.4" y="105.1"> </tspan><tspan x="1302.9" y="105.1" textLength="28.75" lengthAdjust="spacingAndGlyphs">3</tspan><tspan x="1333.9" y="105.1" textLength="28.13" lengthAdjust="spacingAndGlyphs">d</tspan></text>
<text font-size="62" fill="#1c1c1c" stroke="#fff" stroke-width="0.7"><tspan x="1198.1" y="1349.1" textLength="21.90" lengthAdjust="spacingAndGlyphs">I</tspan><tspan x="1223.4" y="1349.1" textLength="27.95" lengthAdjust="spacingAndGlyphs">n</tspan><tspan x="1266.2" y="1349.1"> </tspan><tspan x="1281.3" y="1349.1" textLength="26.35" lengthAdjust="spacingAndGlyphs">3</tspan><tspan x="1309.8" y="1349.1" textLength="25.78" lengthAdjust="spacingAndGlyphs">d</tspan></text>
<text font-size="59" fill="#1c1c1c" stroke="#fff" stroke-width="0.7"><tspan x="1064.6" y="1253.4" textLength="29.61" lengthAdjust="spacingAndGlyphs">B</tspan><tspan x="1097.9" y="1253.4" textLength="17.87" lengthAdjust="spacingAndGlyphs">i</tspan><tspan x="1121" y="1253.4" textLength="27.36" lengthAdjust="spacingAndGlyphs">n</tspan><tspan x="1149.6" y="1253.4" textLength="25.24" lengthAdjust="spacingAndGlyphs">d</tspan><tspan x="1181.8" y="1253.4" textLength="17.87" lengthAdjust="spacingAndGlyphs">i</tspan><tspan x="1204.8" y="1253.4" textLength="27.36" lengthAdjust="spacingAndGlyphs">n</tspan><tspan x="1232.3" y="1253.4" textLength="27.49" lengthAdjust="spacingAndGlyphs">g</tspan><tspan x="1274.6" y="1253.4"> </tspan><tspan x="1288" y="1253.4" textLength="30.14" lengthAdjust="spacingAndGlyphs">E</tspan><tspan x="1316.6" y="1253.4" textLength="27.36" lengthAdjust="spacingAndGlyphs">n</tspan><tspan x="1345.3" y="1253.4" textLength="26.15" lengthAdjust="spacingAndGlyphs">e</tspan><tspan x="1374.6" y="1253.4" textLength="22.78" lengthAdjust="spacingAndGlyphs">r</tspan><tspan x="1400" y="1253.4" textLength="27.49" lengthAdjust="spacingAndGlyphs">g</tspan><tspan x="1429.3" y="1253.4" textLength="25.60" lengthAdjust="spacingAndGlyphs">y</tspan><tspan x="1462.3" y="1248.4" textLength="15.42" lengthAdjust="spacingAndGlyphs">(</tspan><tspan x="1485" y="1253.4" textLength="26.15" lengthAdjust="spacingAndGlyphs">e</tspan><tspan x="1512.9" y="1253.4" textLength="26.60" lengthAdjust="spacingAndGlyphs">V</tspan><tspan x="1546.7" y="1248.4" textLength="15.42" lengthAdjust="spacingAndGlyphs">)</tspan></text>
<text font-size="59" fill="#1c1c1c" stroke="#fff" stroke-width="0.7"><tspan x="1118.7" y="2523.4" textLength="29.88" lengthAdjust="spacingAndGlyphs">B</tspan><tspan x="1152.3" y="2523.4" textLength="18.03" lengthAdjust="spacingAndGlyphs">i</tspan><tspan x="1175.6" y="2523.4" textLength="27.60" lengthAdjust="spacingAndGlyphs">n</tspan><tspan x="1204.5" y="2523.4" textLength="25.46" lengthAdjust="spacingAndGlyphs">d</tspan><tspan x="1236.9" y="2523.4" textLength="18.03" lengthAdjust="spacingAndGlyphs">i</tspan><tspan x="1260.2" y="2523.4" textLength="27.60" lengthAdjust="spacingAndGlyphs">n</tspan><tspan x="1287.9" y="2523.4" textLength="27.74" lengthAdjust="spacingAndGlyphs">g</tspan><tspan x="1330.6" y="2523.4"> </tspan><tspan x="1344.1" y="2523.4" textLength="30.41" lengthAdjust="spacingAndGlyphs">E</tspan><tspan x="1373" y="2523.4" textLength="27.60" lengthAdjust="spacingAndGlyphs">n</tspan><tspan x="1401.9" y="2523.4" textLength="26.38" lengthAdjust="spacingAndGlyphs">e</tspan><tspan x="1431.5" y="2523.4" textLength="22.99" lengthAdjust="spacingAndGlyphs">r</tspan><tspan x="1457.1" y="2523.4" textLength="27.74" lengthAdjust="spacingAndGlyphs">g</tspan><tspan x="1486.7" y="2523.4" textLength="25.83" lengthAdjust="spacingAndGlyphs">y</tspan><tspan x="1518.2" y="2523.4" textLength="19.67" lengthAdjust="spacingAndGlyphs">/</tspan><tspan x="1542.9" y="2523.4" textLength="26.38" lengthAdjust="spacingAndGlyphs">e</tspan><tspan x="1571" y="2523.4" textLength="26.83" lengthAdjust="spacingAndGlyphs">V</tspan></text>
<g transform="translate(68 458) rotate(-90)"><text font-size="59" fill="#1c1c1c" stroke="#fff" stroke-width="0.7"><tspan x="0.3" y="0" textLength="28.04" lengthAdjust="spacingAndGlyphs">C</tspan><tspan x="28.4" y="0" textLength="27.13" lengthAdjust="spacingAndGlyphs">o</tspan><tspan x="56.8" y="0" textLength="26.61" lengthAdjust="spacingAndGlyphs">u</tspan><tspan x="84" y="0" textLength="27.60" lengthAdjust="spacingAndGlyphs">n</tspan><tspan x="115.6" y="0" textLength="20.49" lengthAdjust="spacingAndGlyphs">t</tspan><tspan x="142" y="0" textLength="23.70" lengthAdjust="spacingAndGlyphs">s</tspan><tspan x="173.9" y="-5" textLength="15.56" lengthAdjust="spacingAndGlyphs">(</tspan><tspan x="198" y="0" textLength="23.70" lengthAdjust="spacingAndGlyphs">s</tspan><tspan x="230.5" y="-5" textLength="15.56" lengthAdjust="spacingAndGlyphs">)</tspan></text></g>
<g transform="translate(75.8 978.8) rotate(-90)"><text font-size="59" fill="#1c1c1c" stroke="#fff" stroke-width="0.7"><tspan x="0.3" y="0" textLength="28.04" lengthAdjust="spacingAndGlyphs">C</tspan><tspan x="28.4" y="0" textLength="27.13" lengthAdjust="spacingAndGlyphs">o</tspan><tspan x="56.8" y="0" textLength="26.61" lengthAdjust="spacingAndGlyphs">u</tspan><tspan x="84" y="0" textLength="27.60" lengthAdjust="spacingAndGlyphs">n</tspan><tspan x="115.6" y="0" textLength="20.49" lengthAdjust="spacingAndGlyphs">t</tspan><tspan x="142" y="0" textLength="23.70" lengthAdjust="spacingAndGlyphs">s</tspan><tspan x="173.9" y="-5" textLength="15.56" lengthAdjust="spacingAndGlyphs">(</tspan><tspan x="198" y="0" textLength="23.70" lengthAdjust="spacingAndGlyphs">s</tspan><tspan x="230.5" y="-5" textLength="15.56" lengthAdjust="spacingAndGlyphs">)</tspan></text></g>
<g transform="translate(67.5 1670.7) rotate(-90)"><text font-size="59" fill="#1c1c1c" stroke="#fff" stroke-width="0.7"><tspan x="0.3" y="0" textLength="28.04" lengthAdjust="spacingAndGlyphs">C</tspan><tspan x="28.4" y="0" textLength="27.13" lengthAdjust="spacingAndGlyphs">o</tspan><tspan x="56.8" y="0" textLength="26.61" lengthAdjust="spacingAndGlyphs">u</tspan><tspan x="84" y="0" textLength="27.60" lengthAdjust="spacingAndGlyphs">n</tspan><tspan x="115.6" y="0" textLength="20.49" lengthAdjust="spacingAndGlyphs">t</tspan><tspan x="142" y="0" textLength="23.70" lengthAdjust="spacingAndGlyphs">s</tspan><tspan x="173.9" y="-5" textLength="15.56" lengthAdjust="spacingAndGlyphs">(</tspan><tspan x="198" y="0" textLength="23.70" lengthAdjust="spacingAndGlyphs">s</tspan><tspan x="230.5" y="-5" textLength="15.56" lengthAdjust="spacingAndGlyphs">)</tspan></text></g>
<g transform="translate(83.6 2233.8) rotate(-90)"><text font-size="59" fill="#1c1c1c" stroke="#fff" stroke-width="0.7"><tspan x="0.3" y="0" textLength="28.04" lengthAdjust="spacingAndGlyphs">C</tspan><tspan x="28.4" y="0" textLength="27.13" lengthAdjust="spacingAndGlyphs">o</tspan><tspan x="56.8" y="0" textLength="26.61" lengthAdjust="spacingAndGlyphs">u</tspan><tspan x="84" y="0" textLength="27.60" lengthAdjust="spacingAndGlyphs">n</tspan><tspan x="115.6" y="0" textLength="20.49" lengthAdjust="spacingAndGlyphs">t</tspan><tspan x="142" y="0" textLength="23.70" lengthAdjust="spacingAndGlyphs">s</tspan><tspan x="173.9" y="-5" textLength="15.56" lengthAdjust="spacingAndGlyphs">(</tspan><tspan x="198" y="0" textLength="23.70" lengthAdjust="spacingAndGlyphs">s</tspan><tspan x="230.5" y="-5" textLength="15.56" lengthAdjust="spacingAndGlyphs">)</tspan></text></g>
<text fill="#1a1a1a" stroke="#fff" stroke-width="0.6"><tspan x="267.6" y="87.9" font-size="56.5">(</tspan><tspan x="288.1" y="93" font-size="54.7">a</tspan><tspan x="315.6" y="87.9" font-size="56.5">)</tspan></text>
<text fill="#1a1a1a" stroke="#fff" stroke-width="0.6"><tspan x="291.3" y="1342.6" font-size="57.2">(</tspan><tspan x="311.7" y="1348.5" font-size="56.8">b</tspan><tspan x="339.4" y="1342.6" font-size="57.2">)</tspan></text>
<g fill="#111" stroke="#fff" stroke-width="0.5">
<text x="79.2 102.4 122.9 130.3 153.6 176.8" y="88.2" font-size="46.5">12,000</text>
<text x="79.2 102.4 122.9 130.3 153.6 176.8" y="174.7" font-size="46.5">10,000</text>
<text x="107.1 130.3 153.6 176.8" y="260.9" font-size="46.5">8000</text>
<text x="107.1 130.3 153.6 176.8" y="346.2" font-size="46.5">6000</text>
<text x="107.1 130.3 153.6 176.8" y="432.2" font-size="46.5">4000</text>
<text x="107.1 130.3 153.6 176.8" y="518.6" font-size="46.5">2000</text>
<text x="107.1 130.3 153.6 176.8" y="627.8" font-size="46.5">8000</text>
<text x="107.1 130.3 153.6 176.8" y="760" font-size="46.5">6000</text>
<text x="107.1 130.3 153.6 176.8" y="894.2" font-size="46.5">4000</text>
<text x="107.1 130.3 153.6 176.8" y="1026.8" font-size="46.5">2000</text>
<text x="84.7 107.9 128.4 135.8 159.1 182.3" y="1378.8" font-size="46.5">16,000</text>
<text x="84.7 107.9 128.4 135.8 159.1 182.3" y="1535.4" font-size="46.5">14,000</text>
<text x="84.7 107.9 128.4 135.8 159.1 182.3" y="1692.1" font-size="46.5">12,000</text>
<text x="84.7 107.9 128.4 135.8 159.1 182.3" y="1845.7" font-size="46.5">10,000</text>
<text x="118.7 141.9 165.2 188.4" y="2038.5" font-size="46.5">6000</text>
<text x="118.7 141.9 165.2 188.4" y="2228.2" font-size="46.5">4000</text>
<text x="198.8 222.1" y="1186.7" font-size="46.5">30</text>
<text x="929.4 952.6" y="1186.7" font-size="46.5">40</text>
<text x="1659.8 1683.1" y="1186.7" font-size="46.5">50</text>
<text x="2390.3 2413.6" y="1186.7" font-size="46.5">60</text>
<text x="357 380.3 403.5" y="2442.4" font-size="46.5">435</text>
<text x="671.4 694.7 717.9" y="2442.4" font-size="46.5">440</text>
<text x="985.8 1009.1 1032.3" y="2442.4" font-size="46.5">445</text>
<text x="1300.2 1323.5 1346.7" y="2442.4" font-size="46.5">450</text>
<text x="1614.6 1637.9 1661.1" y="2442.4" font-size="46.5">455</text>
<text x="1929 1952.3 1975.5" y="2442.4" font-size="46.5">460</text>
<text x="2243.4 2266.7 2289.9" y="2442.4" font-size="46.5">465</text>
</g>
</svg></body></html>
